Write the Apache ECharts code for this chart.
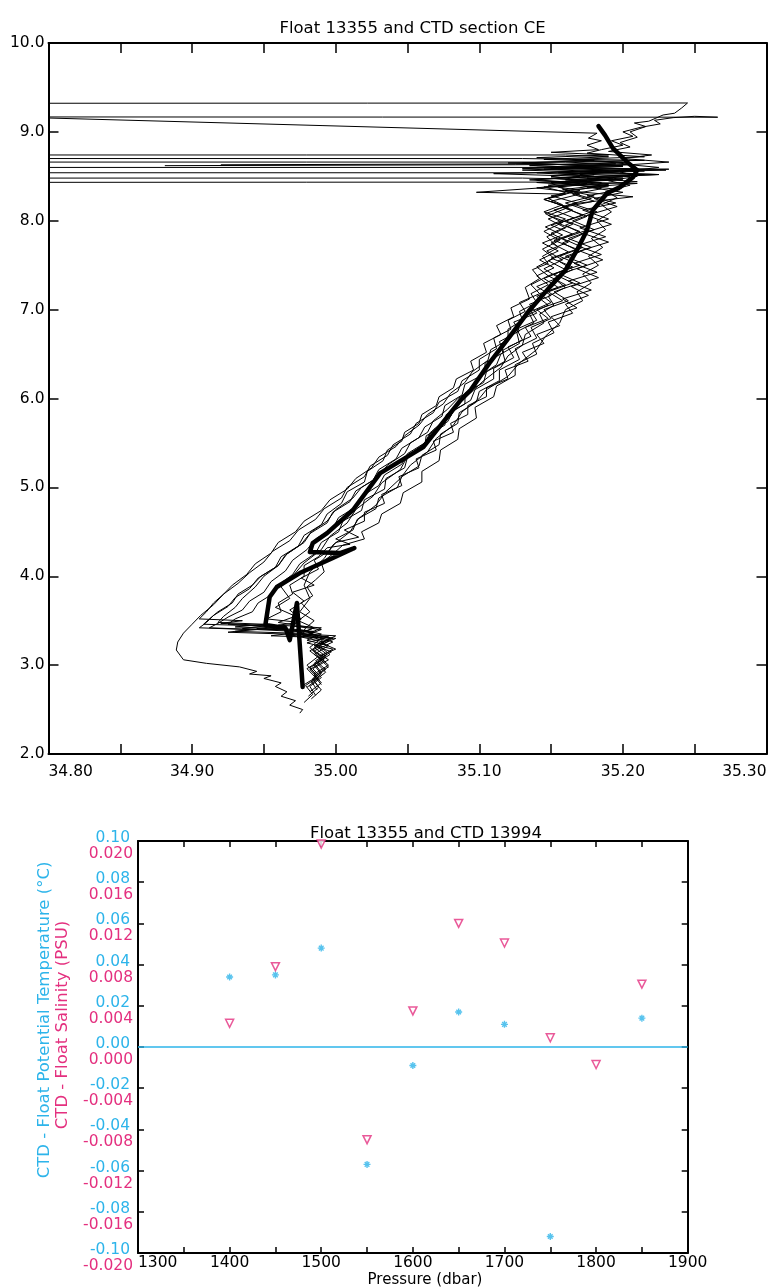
<!DOCTYPE html>
<html><head><meta charset="utf-8">
<script src="https://cdn.jsdelivr.net/npm/echarts@6/dist/echarts.min.js"></script>
<style>html,body{margin:0;padding:0;background:#fff}#c{width:773px;height:1288px}</style>
</head><body><div id="c"></div>
<script>
// ---------- Top chart: theta-S (Salinity, Potential temperature) ----------
const topTitle = 'Float 13355 and CTD section CE';
const salTickValues = [34.8, 34.9, 35.0, 35.1, 35.2, 35.3];
const salTickLabels = ['34.80', '34.90', '35.00', '35.10', '35.20', '35.30'];
const thetaTickValues = [2, 3, 4, 5, 6, 7, 8, 9, 10];
const thetaTickLabels = ['2.0', '3.0', '4.0', '5.0', '6.0', '7.0', '8.0', '9.0', '10.0'];

// float profile [salinity, theta]
const floatProfile = [[35.183,9.064],[35.1875,8.963],[35.193,8.817],[35.203,8.659],[35.210,8.569],[35.207,8.490],[35.198,8.378],[35.189,8.310],[35.179,8.119],[35.175,7.894],[35.168,7.669],[35.160,7.444],[35.149,7.253],[35.135,6.994],[35.123,6.736],[35.107,6.398],[35.094,6.095],[35.087,5.982],[35.061,5.453],[35.031,5.161],[35.012,4.745],[34.994,4.486],[34.984,4.373],[34.982,4.272],[35.003,4.261],[35.013,4.317],[34.998,4.205],[34.975,4.036],[34.959,3.879],[34.954,3.766],[34.951,3.451],[34.965,3.417],[34.968,3.282],[34.973,3.699],[34.975,3.226],[34.977,2.754]];

// CTD station profiles [salinity, theta]
const ctd1 = [[34.5,9.32],[35.245,9.325],[35.241,9.27],[35.236,9.21],[35.228,9.19],[35.218,9.12],[35.208,9.1],[35.216,9.06],[35.205,9.0],[35.21,8.94],[35.198,8.88],[35.205,8.83],[35.19,8.78],[35.22,8.74],[35.2,8.7],[35.232,8.66],[35.205,8.63],[35.225,8.6],[35.198,8.55],[35.21,8.5],[35.19,8.45],[35.205,8.4],[35.188,8.33],[35.196,8.26],[35.185,8.18],[35.192,8.1],[35.182,8.0],[35.188,7.9],[35.178,7.8],[35.186,7.7],[35.176,7.6],[35.183,7.5],[35.172,7.4],[35.178,7.3],[35.168,7.2],[35.172,7.1],[35.16,7.0],[35.156,6.85],[35.146,6.7],[35.14,6.55],[35.128,6.4],[35.12,6.25],[35.105,6.1],[35.1,6.0],[35.088,5.85],[35.082,5.7],[35.07,5.55],[35.064,5.4],[35.052,5.25],[35.045,5.1],[35.035,4.95],[35.028,4.8],[35.016,4.65],[35.01,4.5],[34.998,4.35],[34.992,4.2],[34.982,4.05],[34.978,3.9],[34.982,3.75],[34.975,3.6],[34.985,3.5],[34.978,3.4],[34.99,3.3],[34.982,3.2],[34.988,3.1],[34.98,3.0],[34.986,2.9]];
const ctd2 = [[34.5,9.17],[35.266,9.165],[35.25,9.175],[35.235,9.16],[35.222,9.13],[35.226,9.09],[35.212,9.05],[35.2,9.0],[35.207,8.95],[35.192,8.9],[35.2,8.85],[35.185,8.8],[35.175,8.76],[35.215,8.72],[35.165,8.69],[35.205,8.65],[35.16,8.6],[35.2,8.56],[35.17,8.52],[35.193,8.47],[35.16,8.42],[35.185,8.36],[35.165,8.3],[35.18,8.22],[35.158,8.15],[35.175,8.05],[35.16,7.95],[35.172,7.85],[35.158,7.75],[35.17,7.65],[35.155,7.55],[35.165,7.45],[35.152,7.35],[35.16,7.25],[35.148,7.15],[35.152,7.05],[35.142,6.95],[35.145,6.85],[35.132,6.72],[35.13,6.6],[35.12,6.48],[35.115,6.35],[35.103,6.2],[35.095,6.08],[35.085,5.95],[35.08,5.8],[35.068,5.65],[35.062,5.5],[35.05,5.35],[35.045,5.2],[35.032,5.05],[35.026,4.9],[35.014,4.75],[35.008,4.6],[34.996,4.45],[34.99,4.3],[34.978,4.15],[34.97,4.0],[34.962,3.88],[34.968,3.75],[34.958,3.65],[34.972,3.55],[34.96,3.48],[34.985,3.42],[34.975,3.35],[34.992,3.3],[34.985,3.2],[34.993,3.1],[34.985,3.0],[34.99,2.9],[34.983,2.8]];
const ctd3 = [[34.5,9.29],[35.182,8.985],[35.176,8.93],[35.185,8.9],[35.175,8.85],[35.183,8.8],[35.15,8.77],[35.19,8.74],[35.14,8.71],[35.18,8.68],[35.13,8.65],[35.175,8.62],[35.145,8.58],[35.185,8.55],[35.15,8.5],[35.175,8.45],[35.148,8.4],[35.17,8.34],[35.15,8.28],[35.168,8.2],[35.152,8.12],[35.166,8.03],[35.15,7.95],[35.165,7.85],[35.15,7.75],[35.162,7.65],[35.148,7.55],[35.16,7.45],[35.145,7.35],[35.155,7.25],[35.14,7.15],[35.148,7.05],[35.135,6.95],[35.138,6.85],[35.126,6.75],[35.128,6.62],[35.115,6.5],[35.112,6.38],[35.1,6.25],[35.097,6.12],[35.085,6.0],[35.078,5.88],[35.068,5.75],[35.064,5.62],[35.052,5.5],[35.048,5.38],[35.036,5.25],[35.03,5.12],[35.018,5.0],[35.012,4.88],[35.0,4.75],[34.994,4.62],[34.983,4.5],[34.978,4.38],[34.966,4.25],[34.96,4.12],[34.95,4.0],[34.944,3.88],[34.935,3.75],[34.93,3.65],[34.922,3.55],[34.918,3.48],[34.95,3.46],[34.93,3.43],[34.975,3.4],[34.99,3.35],[34.98,3.28],[34.995,3.22],[34.985,3.12],[34.992,3.05],[34.982,2.95],[34.988,2.85],[34.98,2.75]];
const ctd4 = [[34.5,8.74],[35.16,8.74],[35.19,8.72],[35.145,8.69],[35.2,8.66],[35.135,8.62],[35.21,8.58],[35.14,8.54],[35.18,8.5],[35.135,8.46],[35.17,8.42],[35.14,8.37],[35.165,8.32],[35.148,8.25],[35.158,8.18],[35.145,8.1],[35.16,8.02],[35.146,7.93],[35.158,7.84],[35.144,7.75],[35.155,7.66],[35.142,7.56],[35.152,7.47],[35.14,7.38],[35.148,7.28],[35.136,7.18],[35.14,7.08],[35.128,6.98],[35.13,6.88],[35.12,6.78],[35.12,6.66],[35.108,6.55],[35.106,6.43],[35.095,6.3],[35.09,6.18],[35.08,6.06],[35.075,5.94],[35.064,5.82],[35.058,5.7],[35.048,5.58],[35.042,5.46],[35.03,5.34],[35.025,5.22],[35.014,5.1],[35.008,4.98],[34.996,4.86],[34.99,4.74],[34.978,4.62],[34.972,4.5],[34.96,4.38],[34.955,4.26],[34.944,4.14],[34.938,4.02],[34.928,3.9],[34.922,3.8],[34.915,3.7],[34.91,3.6],[34.905,3.52],[34.935,3.5],[34.92,3.47],[34.96,3.44],[34.945,3.41],[34.985,3.38],[34.97,3.33],[34.998,3.3],[34.985,3.22],[34.997,3.15],[34.986,3.05],[34.993,2.95],[34.984,2.85],[34.988,2.75],[34.981,2.65]];
const ctd5 = [[34.5,8.70],[35.13,8.70],[35.215,8.68],[35.12,8.65],[35.2,8.61],[35.13,8.57],[35.225,8.52],[35.15,8.48],[35.185,8.43],[35.155,8.38],[35.17,8.3],[35.15,8.22],[35.165,8.12],[35.148,8.02],[35.16,7.92],[35.147,7.82],[35.155,7.7],[35.144,7.6],[35.148,7.52],[35.137,7.45],[35.142,7.35],[35.132,7.25],[35.135,7.12],[35.122,7.02],[35.124,6.92],[35.112,6.82],[35.115,6.72],[35.103,6.62],[35.105,6.52],[35.094,6.42],[35.096,6.32],[35.084,6.22],[35.082,6.12],[35.072,6.02],[35.07,5.92],[35.06,5.82],[35.058,5.72],[35.048,5.62],[35.046,5.52],[35.036,5.42],[35.033,5.3],[35.022,5.18],[35.02,5.06],[35.008,4.95],[35.004,4.82],[34.994,4.7],[34.99,4.58],[34.978,4.46],[34.974,4.34],[34.962,4.22],[34.958,4.1],[34.946,3.98],[34.94,3.86],[34.93,3.76],[34.925,3.66],[34.915,3.56],[34.91,3.48],[34.905,3.42],[34.94,3.4],[34.925,3.37],[34.965,3.35],[34.995,3.32],[34.98,3.25],[34.998,3.18],[34.988,3.08],[34.995,2.98],[34.985,2.88],[34.99,2.78]];
const ctd6 = [[34.881,8.62],[35.125,8.63],[35.195,8.64],[35.14,8.6],[35.23,8.57],[35.155,8.54],[35.205,8.5],[35.16,8.46],[35.19,8.41],[35.158,8.35],[35.18,8.28],[35.16,8.2],[35.178,8.1],[35.16,8.0],[35.176,7.9],[35.158,7.8],[35.172,7.7],[35.156,7.6],[35.17,7.5],[35.152,7.4],[35.165,7.3],[35.148,7.2],[35.158,7.1],[35.14,7.0],[35.148,6.9],[35.132,6.8],[35.136,6.7],[35.12,6.58],[35.124,6.46],[35.11,6.34],[35.11,6.22],[35.097,6.1],[35.094,5.98],[35.082,5.86],[35.078,5.74],[35.066,5.62],[35.062,5.5],[35.05,5.38],[35.046,5.26],[35.034,5.14],[35.03,5.02],[35.018,4.9],[35.014,4.78],[35.002,4.66],[34.998,4.54],[34.986,4.42],[34.98,4.3],[34.97,4.18],[34.965,4.06],[34.955,3.94],[34.95,3.82],[34.94,3.72],[34.935,3.62],[34.925,3.54],[34.918,3.47],[34.912,3.42],[34.945,3.4],[34.93,3.38],[34.97,3.36],[34.955,3.33],[34.99,3.31],[34.998,3.26],[34.985,3.16],[34.995,3.06],[34.984,2.96],[34.99,2.86],[34.982,2.76],[34.986,2.66]];
const ctd7 = [[34.5,8.60],[35.15,8.60],[35.232,8.58],[35.17,8.55],[35.225,8.52],[35.175,8.48],[35.21,8.44],[35.17,8.4],[35.198,8.35],[35.175,8.28],[35.195,8.2],[35.172,8.12],[35.19,8.02],[35.17,7.92],[35.188,7.82],[35.168,7.72],[35.185,7.62],[35.166,7.52],[35.182,7.42],[35.162,7.32],[35.178,7.22],[35.158,7.12],[35.168,7.02],[35.15,6.92],[35.156,6.82],[35.14,6.72],[35.145,6.62],[35.13,6.52],[35.134,6.42],[35.118,6.32],[35.12,6.22],[35.105,6.12],[35.105,6.02],[35.092,5.92],[35.092,5.82],[35.08,5.72],[35.082,5.62],[35.068,5.52],[35.07,5.42],[35.056,5.32],[35.058,5.22],[35.044,5.12],[35.046,5.02],[35.032,4.92],[35.034,4.82],[35.02,4.72],[35.02,4.62],[35.006,4.52],[35.016,4.44],[35.0,4.38],[34.995,4.28],[34.985,4.18],[34.988,4.08],[34.976,3.98],[34.985,3.9],[34.97,3.82],[34.978,3.72],[34.968,3.62],[34.976,3.52],[34.97,3.44],[34.99,3.4],[34.978,3.33],[34.995,3.27],[34.984,3.17],[34.992,3.07],[34.982,2.97],[34.988,2.87],[34.979,2.77],[34.984,2.67],[34.978,2.58]];
const ctd8 = [[34.92,8.63],[35.14,8.64],[35.2,8.62],[35.13,8.59],[35.19,8.56],[35.11,8.53],[35.17,8.5],[35.14,8.46],[35.175,8.42],[35.145,8.38],[35.16,8.32],[35.145,8.24],[35.162,8.15],[35.148,8.06],[35.165,7.96],[35.15,7.86],[35.162,7.76],[35.147,7.66],[35.158,7.56],[35.145,7.46],[35.155,7.36],[35.14,7.26],[35.15,7.16],[35.135,7.06],[35.14,6.96],[35.124,6.86],[35.128,6.76],[35.114,6.64],[35.117,6.52],[35.104,6.4],[35.104,6.28],[35.09,6.16],[35.088,6.04],[35.076,5.92],[35.074,5.8],[35.062,5.68],[35.058,5.56],[35.046,5.44],[35.042,5.32],[35.03,5.2],[35.026,5.08],[35.014,4.96],[35.01,4.84],[34.998,4.72],[34.994,4.6],[34.982,4.48],[34.976,4.36],[34.965,4.24],[34.96,4.12],[34.948,4.0],[34.942,3.9],[34.932,3.8],[34.928,3.7],[34.918,3.6],[34.912,3.52],[34.908,3.46],[34.95,3.44],[34.935,3.41],[34.98,3.39],[34.965,3.36],[35.0,3.33],[34.99,3.25],[35.0,3.18],[34.988,3.1],[34.995,3.0],[34.985,2.9],[34.99,2.8],[34.982,2.7]];
const ctd9 = [[34.5,8.54],[35.14,8.54],[35.215,8.52],[35.165,8.49],[35.2,8.46],[35.15,8.43],[35.19,8.39],[35.16,8.34],[35.207,8.27],[35.165,8.19],[35.182,8.1],[35.165,8.0],[35.18,7.9],[35.162,7.8],[35.178,7.7],[35.16,7.6],[35.175,7.5],[35.156,7.4],[35.17,7.3],[35.152,7.2],[35.162,7.1],[35.145,7.0],[35.15,6.9],[35.136,6.8],[35.14,6.68],[35.125,6.56],[35.128,6.44],[35.114,6.32],[35.114,6.2],[35.1,6.08],[35.098,5.96],[35.086,5.84],[35.085,5.72],[35.073,5.6],[35.072,5.48],[35.06,5.36],[35.058,5.24],[35.046,5.12],[35.043,5.0],[35.03,4.88],[35.028,4.76],[35.015,4.64],[35.012,4.52],[35.0,4.42],[35.01,4.36],[34.994,4.32],[34.988,4.22],[34.978,4.12],[34.978,4.0],[34.968,3.9],[34.97,3.8],[34.96,3.7],[34.962,3.6],[34.952,3.52],[34.975,3.48],[34.96,3.45],[34.99,3.42],[34.982,3.36],[34.996,3.3],[34.986,3.22],[34.994,3.12],[34.985,3.02],[34.99,2.92],[34.983,2.82],[34.987,2.72]];
const ctd10 = [[34.5,8.48],[35.13,8.48],[35.19,8.46],[35.14,8.43],[35.17,8.4],[35.098,8.32],[35.16,8.3],[35.145,8.24],[35.16,8.16],[35.146,8.08],[35.158,7.98],[35.145,7.88],[35.156,7.78],[35.144,7.68],[35.152,7.58],[35.14,7.48],[35.148,7.38],[35.136,7.28],[35.142,7.18],[35.128,7.08],[35.132,6.98],[35.12,6.88],[35.122,6.78],[35.11,6.68],[35.112,6.56],[35.1,6.44],[35.1,6.32],[35.088,6.2],[35.085,6.08],[35.072,5.96],[35.068,5.84],[35.056,5.72],[35.052,5.6],[35.04,5.48],[35.036,5.36],[35.024,5.24],[35.02,5.12],[35.008,5.0],[35.004,4.88],[34.992,4.76],[34.986,4.64],[34.974,4.52],[34.968,4.4],[34.956,4.28],[34.95,4.16],[34.94,4.04],[34.932,3.92],[34.922,3.8],[34.915,3.68],[34.906,3.56],[34.9,3.46],[34.894,3.36],[34.89,3.26],[34.889,3.17],[34.894,3.06],[34.91,3.02],[34.933,2.98],[34.945,2.93],[34.94,2.9],[34.955,2.88],[34.95,2.85],[34.962,2.8],[34.958,2.76],[34.966,2.7],[34.962,2.65],[34.972,2.6],[34.968,2.55],[34.977,2.5],[34.975,2.46]];
const ctd11 = [[34.5,8.43],[35.16,8.435],[35.21,8.42],[35.175,8.38],[35.2,8.32],[35.18,8.25],[35.196,8.16],[35.175,8.06],[35.192,7.96],[35.172,7.86],[35.19,7.76],[35.17,7.66],[35.186,7.56],[35.168,7.46],[35.183,7.36],[35.164,7.26],[35.176,7.16],[35.16,7.06],[35.165,6.96],[35.148,6.86],[35.152,6.74],[35.137,6.62],[35.14,6.5],[35.125,6.38],[35.125,6.26],[35.112,6.14],[35.11,6.02],[35.097,5.9],[35.098,5.78],[35.086,5.66],[35.085,5.54],[35.073,5.42],[35.072,5.3],[35.06,5.18],[35.06,5.06],[35.047,4.94],[35.045,4.82],[35.032,4.7],[35.03,4.6],[35.018,4.5],[35.02,4.42],[35.005,4.35],[34.998,4.25],[34.99,4.15],[34.992,4.05],[34.986,3.96],[34.98,3.88],[34.984,3.78],[34.976,3.7],[34.982,3.6],[34.974,3.5],[34.985,3.42],[34.975,3.36],[35.0,3.3],[34.988,3.22],[34.996,3.12],[34.987,3.02],[34.993,2.92],[34.985,2.82],[34.99,2.72],[34.983,2.62]];
const ctd12 = [[34.5,8.66],[35.16,8.66],[35.205,8.63],[35.15,8.59],[35.215,8.56],[35.16,8.52],[35.2,8.48],[35.155,8.44],[35.19,8.4],[35.16,8.33],[35.178,8.25],[35.158,8.16],[35.172,8.06],[35.155,7.97],[35.17,7.88],[35.152,7.78],[35.168,7.68],[35.15,7.58],[35.165,7.48],[35.148,7.38],[35.16,7.28],[35.142,7.18],[35.15,7.08],[35.136,6.98],[35.14,6.88],[35.126,6.78],[35.13,6.66],[35.116,6.54],[35.118,6.42],[35.105,6.3],[35.103,6.18],[35.09,6.06],[35.09,5.94],[35.077,5.82],[35.076,5.7],[35.063,5.58],[35.062,5.46],[35.05,5.34],[35.048,5.22],[35.035,5.1],[35.034,4.98],[35.02,4.86],[35.018,4.74],[35.005,4.62],[35.002,4.5],[34.99,4.38],[34.986,4.26],[34.975,4.14],[34.97,4.02],[34.96,3.9],[34.956,3.8],[34.946,3.7],[34.942,3.6],[34.93,3.52],[34.925,3.46],[34.96,3.43],[34.945,3.4],[34.985,3.37],[34.975,3.32],[34.992,3.26],[34.982,3.16],[34.99,3.06],[34.98,2.96],[34.986,2.86],[34.978,2.78]];
const ctdProfiles = [ctd1, ctd2, ctd3, ctd4, ctd5, ctd6, ctd7, ctd8, ctd9, ctd10, ctd11, ctd12];

// ---------- Bottom chart: CTD - Float differences ----------
const bottomTitle = 'Float 13355 and CTD 13994';
const pressureTickValues = [1300, 1400, 1500, 1600, 1700, 1800, 1900];
const pressureTickLabels = ['1300', '1400', '1500', '1600', '1700', '1800', '1900'];
const tempDiffTickLabels = ['-0.10', '-0.08', '-0.06', '-0.04', '-0.02', '0.00', '0.02', '0.04', '0.06', '0.08', '0.10'];
const salDiffTickLabels = ['-0.020', '-0.016', '-0.012', '-0.008', '-0.004', '0.000', '0.004', '0.008', '0.012', '0.016', '0.020'];
const tempPressure = [1400, 1450, 1500, 1550, 1600, 1650, 1700, 1750, 1850];
const tempDiff = [0.034, 0.035, 0.048, -0.057, -0.009, 0.017, 0.011, -0.092, 0.014];
const salPressure = [1400, 1450, 1500, 1550, 1600, 1650, 1700, 1750, 1800, 1850];
const salDiff = [0.0023, 0.0078, 0.0197, -0.009, 0.0035, 0.012, 0.0101, 0.0009, -0.0017, 0.0061];

const CYAN = '#2db4ea';
const PINK = '#e4307f';
const FONT = '"DejaVu Sans", sans-serif';

function lookup(values, labels) {
  return function (v) {
    for (let k = 0; k < values.length; k++) if (Math.abs(values[k] - v) < 1e-6) return labels[k];
    return '';
  };
}

const chart = echarts.init(document.getElementById('c'), null, { renderer: 'canvas' });

const frameLine = { show: true, onZero: false, lineStyle: { color: '#000', width: 2 } };
const series = [];
ctdProfiles.forEach(function (p, i) {
  series.push({
    name: 'ctd' + (i + 1), type: 'line', xAxisIndex: 0, yAxisIndex: 0,
    data: p, symbol: 'none', clip: true,
    lineStyle: { color: '#000', width: 1 }, z: 2, silent: true
  });
});
series.push({
  name: 'float', type: 'line', xAxisIndex: 0, yAxisIndex: 0,
  data: floatProfile, symbol: 'none', clip: true,
  lineStyle: { color: '#000', width: 4.5, join: 'round', cap: 'round' }, z: 5
});
const asterisk = 'path://M4,0L6,0L6,10L4,10Z M0,4L10,4L10,6L0,6Z M1,2.4L2.4,1L9,7.6L7.6,9Z M7.6,1L9,2.4L2.4,9L1,7.6Z';
series.push({
  name: 'dT', type: 'scatter', xAxisIndex: 2, yAxisIndex: 2,
  data: tempPressure.map(function (p, i) { return [p, tempDiff[i]]; }),
  symbol: asterisk, symbolSize: 7, itemStyle: { color: CYAN }, z: 4,
  markLine: { silent: true, symbol: 'none', label: { show: false },
    lineStyle: { color: CYAN, width: 1.5, type: 'solid' }, data: [{ yAxis: 0 }] }
});
series.push({
  name: 'dS', type: 'scatter', xAxisIndex: 2, yAxisIndex: 3,
  data: salPressure.map(function (p, i) { return [p, salDiff[i]]; }),
  symbol: 'triangle', symbolRotate: 180, symbolSize: [8, 8],
  itemStyle: { color: '#fff', borderColor: PINK, borderWidth: 1.5 }, z: 4
});

const option = {
  animation: false,
  backgroundColor: '#fff',
  title: [
    { text: topTitle, left: 407.5, top: 15, textAlign: 'center',
      textStyle: { fontFamily: FONT, fontSize: 16.5, fontWeight: 'normal', color: '#000' } },
    { text: bottomTitle, left: 421, top: 820, textAlign: 'center',
      textStyle: { fontFamily: FONT, fontSize: 16.5, fontWeight: 'normal', color: '#000' } }
  ],
  grid: [
    { left: 48.5, top: 43, width: 718, height: 711 },
    { left: 138, top: 841, width: 549.7, height: 412 }
  ],
  xAxis: [
    { gridIndex: 0, type: 'value', min: 34.8, max: 35.3, interval: 0.05, position: 'bottom',
      axisLine: frameLine, axisTick: { inside: true, length: 10, lineStyle: { width: 1.5, color: '#000' } },
      axisLabel: { formatter: lookup(salTickValues, salTickLabels), fontFamily: FONT, fontSize: 15.5, color: '#000',
        margin: 10, alignMinLabel: 'left', alignMaxLabel: 'right' },
      splitLine: { show: false } },
    { gridIndex: 0, type: 'value', min: 34.8, max: 35.3, interval: 0.05, position: 'top',
      axisLine: frameLine, axisTick: { inside: true, length: 10, lineStyle: { width: 1.5, color: '#000' } },
      axisLabel: { show: false }, splitLine: { show: false } },
    { gridIndex: 1, type: 'value', min: 1300, max: 1900, interval: 50, position: 'bottom',
      axisLine: frameLine, axisTick: { inside: true, length: 6, lineStyle: { width: 1.5, color: '#000' } },
      axisLabel: { formatter: lookup(pressureTickValues, pressureTickLabels), fontFamily: FONT, fontSize: 15.5,
        color: '#000', margin: 2, alignMinLabel: 'left' },
      splitLine: { show: false } },
    { gridIndex: 1, type: 'value', min: 1300, max: 1900, interval: 50, position: 'top',
      axisLine: frameLine, axisTick: { inside: true, length: 6, lineStyle: { width: 1.5, color: '#000' } },
      axisLabel: { show: false }, splitLine: { show: false } }
  ],
  yAxis: [
    { gridIndex: 0, type: 'value', min: 2, max: 10, interval: 1, position: 'left',
      axisLine: frameLine, axisTick: { inside: true, length: 10, lineStyle: { width: 1.5, color: '#000' } },
      axisLabel: { formatter: lookup(thetaTickValues, thetaTickLabels), fontFamily: FONT, fontSize: 15.5,
        color: '#000', margin: 4, padding: [0, 0, 7, 0] },
      splitLine: { show: false } },
    { gridIndex: 0, type: 'value', min: 2, max: 10, interval: 1, position: 'right',
      axisLine: frameLine, axisTick: { inside: true, length: 10, lineStyle: { width: 1.5, color: '#000' } },
      axisLabel: { show: false }, splitLine: { show: false } },
    { gridIndex: 1, type: 'value', min: -0.1, max: 0.1, interval: 0.02, position: 'left',
      axisLine: frameLine, axisTick: { inside: true, length: 6, lineStyle: { width: 1.5, color: '#000' } },
      axisLabel: {
        margin: 5, padding: [10, 0, 0, 0],
        formatter: function (v, i) { return '{t|' + tempDiffTickLabels[i] + '}\n{s|' + salDiffTickLabels[i] + '}'; },
        rich: {
          t: { color: CYAN, fontFamily: FONT, fontSize: 15.5, lineHeight: 16, align: 'right', padding: [0, 3, 0, 0] },
          s: { color: PINK, fontFamily: FONT, fontSize: 15.5, lineHeight: 16, align: 'right' }
        }
      },
      splitLine: { show: false } },
    { gridIndex: 1, type: 'value', min: -0.02, max: 0.02, interval: 0.004, position: 'left', show: false },
    { gridIndex: 1, type: 'value', min: -0.1, max: 0.1, interval: 0.02, position: 'right',
      axisLine: frameLine, axisTick: { inside: true, length: 6, lineStyle: { width: 1.5, color: '#000' } },
      axisLabel: { show: false }, splitLine: { show: false } }
  ],
  graphic: [
    { type: 'text', x: 44.5, y: 1020, rotation: Math.PI / 2,
      style: { text: 'CTD - Float Potential Temperature (°C)', fill: CYAN, fontFamily: FONT, fontSize: 16.5,
        align: 'center', verticalAlign: 'middle' } },
    { type: 'text', x: 62.5, y: 1025, rotation: Math.PI / 2,
      style: { text: 'CTD - Float Salinity (PSU)', fill: PINK, fontFamily: FONT, fontSize: 16.5,
        align: 'center', verticalAlign: 'middle' } },
    { type: 'text', x: 425, y: 1280,
      style: { text: 'Pressure (dbar)', fill: '#000', fontFamily: FONT, fontSize: 15,
        align: 'center', verticalAlign: 'middle' } }
  ],
  series: series
};
chart.setOption(option);
</script>
</body></html>
